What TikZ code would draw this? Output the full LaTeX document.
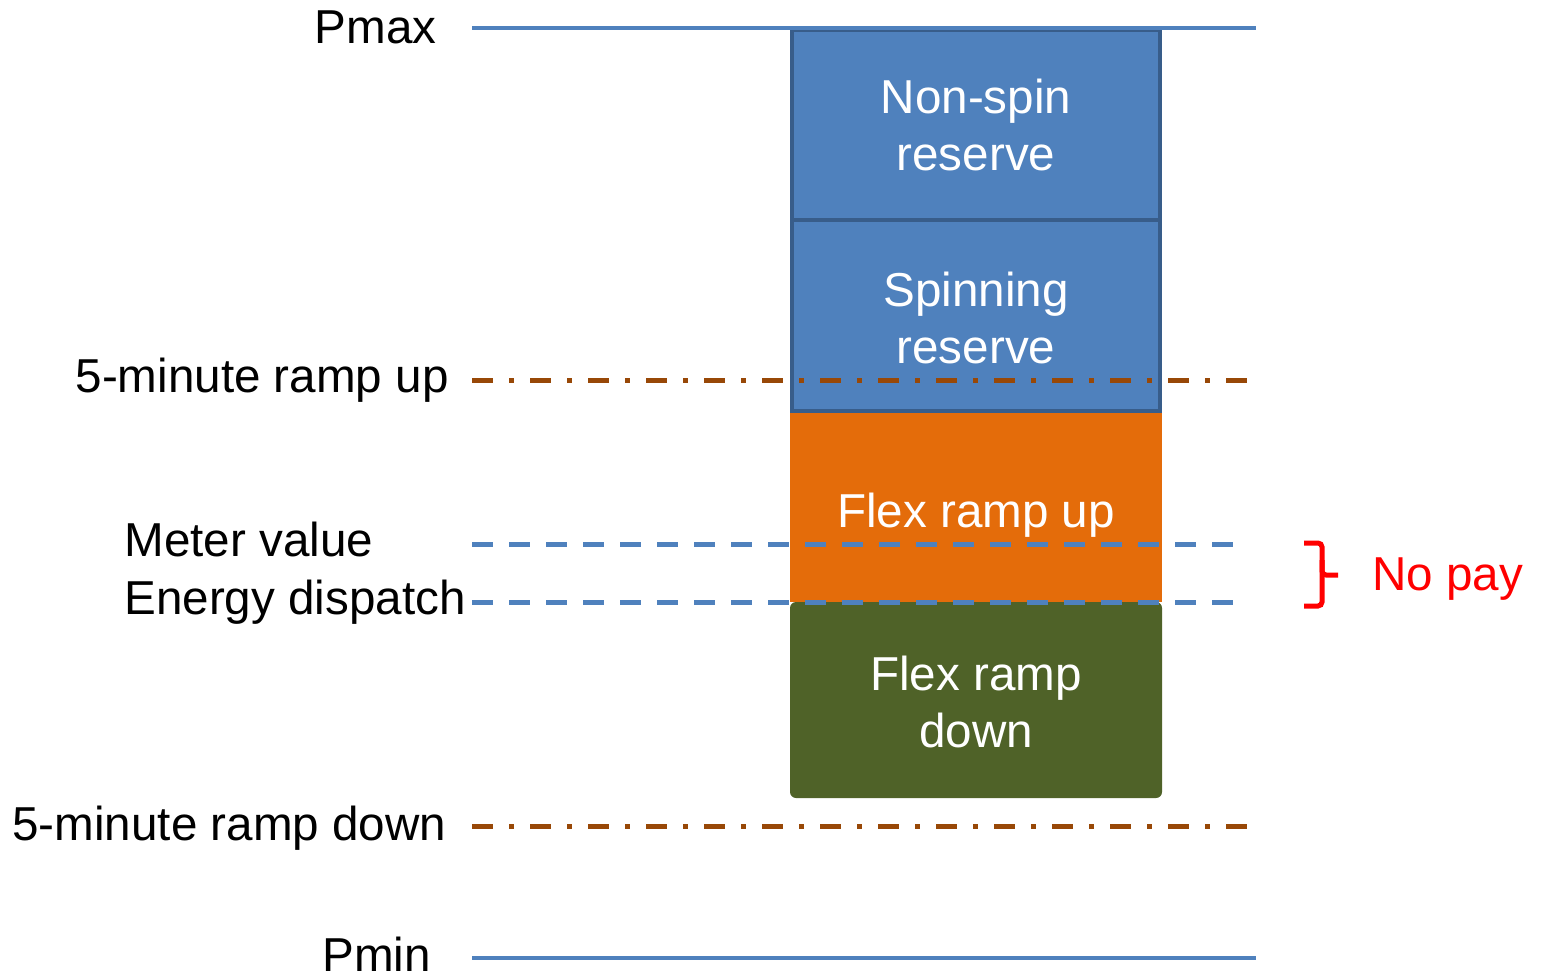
\documentclass[tikz,border=0pt]{standalone}
\usepackage{fontspec}
\setmainfont{Liberation Sans}
\definecolor{resblue}{HTML}{4F81BD}
\definecolor{resedge}{HTML}{385D8A}
\definecolor{flexup}{HTML}{E46C0A}
\definecolor{flexdown}{HTML}{4F6228}
\definecolor{rampbrown}{HTML}{984807}
\definecolor{nopay}{HTML}{FF0000}
\begin{document}
\begin{tikzpicture}[x=0.5pt,y=-0.5pt,
  lbl/.style={font=\fontsize{23.8}{28.5}\selectfont, inner sep=0pt},
  boxtxt/.style={lbl, text=white, align=center},
  limitline/.style={resblue, line width=2.3pt},
  rampline/.style={rampbrown, line width=2.5pt, dash pattern=on 10.5pt off 8pt on 2.5pt off 8pt},
  meterline/.style={resblue, line width=2.5pt, dash pattern=on 10.5pt off 8pt},
  reservebox/.style={fill=resblue, draw=resedge, line width=2.4pt}]
\useasboundingbox (0,0) rectangle (1541,973);

% stacked bands
\fill[flexup] (790,412) rectangle (1162,602);
\fill[flexdown, rounded corners=3pt] (790,602) -- (790,798) -- (1162,798) -- (1162,602) -- cycle;
\draw[reservebox] (792,30) rectangle (1160,220);
\draw[reservebox] (792,220) rectangle (1160,411);

% level lines
\coordinate (pmaxL) at (472,28);  \coordinate (pmaxR) at (1256,28);
\coordinate (rupL) at (472,380);  \coordinate (rupR) at (1256,380);
\coordinate (meterL) at (472,544); \coordinate (meterR) at (1242,544);
\coordinate (dispL) at (472,602); \coordinate (dispR) at (1242,602);
\coordinate (rdnL) at (472,826);  \coordinate (rdnR) at (1256,826);
\coordinate (pminL) at (472,958); \coordinate (pminR) at (1256,958);

\draw[limitline] (pmaxL) -- (pmaxR);
\draw[limitline] (pminL) -- (pminR);
\draw[rampline] (rupL) -- (rupR);
\draw[rampline] (rdnL) -- (rdnR);
\draw[meterline] (meterL) -- (meterR);
\draw[meterline] (dispL) -- (dispR);

% band labels
\node[boxtxt] (nonspin) at (976,125) {Non-spin\\reserve};
\node[boxtxt] (spin) at (976,318) {Spinning\\reserve};
\node[boxtxt, anchor=base] (fup) at (976,527) {Flex ramp up};
\node[boxtxt] (fdown) at (976,702) {Flex ramp\\down};

% level labels
\node[lbl, anchor=base east] (tpmax) at (437,44) {Pmax};
\node[lbl, anchor=base east] (trup) at (449,392) {5-minute ramp up};
\node[lbl, anchor=base west] (tmeter) at (124,556) {Meter value};
\node[lbl, anchor=base west] (tdisp) at (124,614) {Energy dispatch};
\node[lbl, anchor=base west] (trdn) at (12,840) {5-minute ramp down};
\node[lbl, anchor=base west] (tpmin) at (322,971) {Pmin};

% brace and note
\draw[nopay, line width=2.5pt, rounded corners=2pt]
  (1304,543) -- (1322,543) -- (1322,575) -- (1322,606) -- (1304,606);
\draw[nopay, line width=2.5pt, rounded corners=2pt] (1322,560) -- (1322,575) -- (1338,575);
\node[lbl, text=nopay, anchor=base west] (tnopay) at (1372,590) {No pay};
\end{tikzpicture}
\end{document}
